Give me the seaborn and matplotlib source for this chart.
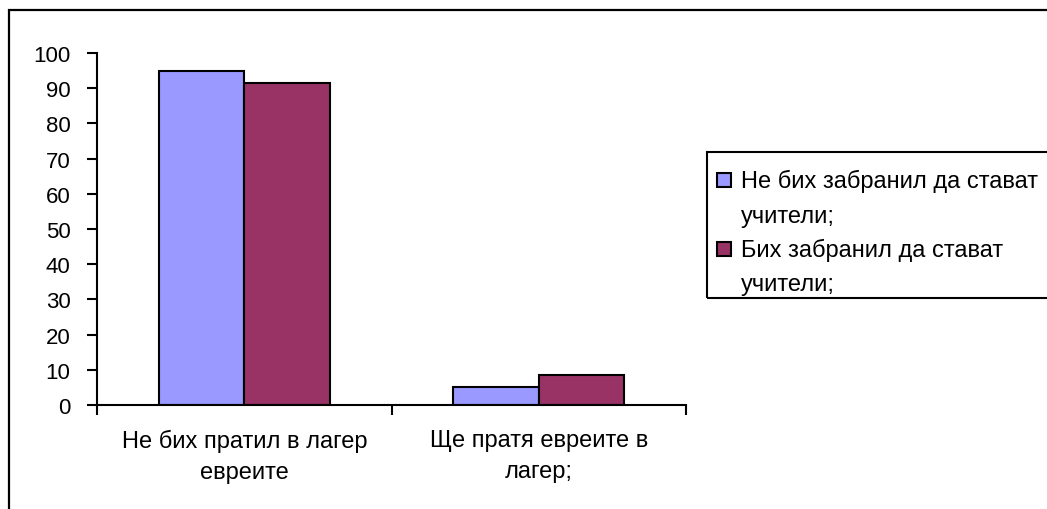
import matplotlib
matplotlib.use("Agg")
import matplotlib.pyplot as plt
from matplotlib.patches import Rectangle
from matplotlib.legend_handler import HandlerPatch
import pandas as pd
import seaborn as sns

# Survey answers (percent of respondents)
categories = ["Не бих пратил в лагер\nевреите", "Ще пратя евреите в\nлагер;"]
series_names = ["Не бих забранил да стават\nучители;", "Бих забранил да стават\nучители;"]
not_forbid = [95.0, 5.0]
forbid = [91.5, 8.5]
y_ticks = list(range(0, 101, 10))
colors = ["#9999FF", "#993366"]

df = pd.DataFrame({
    "category": categories * 2,
    "series": [series_names[0]] * 2 + [series_names[1]] * 2,
    "value": not_forbid + forbid,
})

sns.set_theme(style="white")
plt.rcParams["font.family"] = ["Liberation Sans", "DejaVu Sans"]
plt.rcParams["font.size"] = 17

W, H = 1047, 510
fig = plt.figure(figsize=(W / 100, H / 100), dpi=100)
ax = fig.add_axes([97 / W, 1 - 406 / H, (686 - 97) / W, (406 - 54) / H])

sns.barplot(data=df, x="category", y="value", hue="series", palette=colors,
            saturation=1, width=0.58, edgecolor="black", linewidth=1.5,
            ax=ax, legend=True)

ax.set_xlim(-0.5, 1.5)
ax.set_ylim(0, 100)
ax.set_yticks(y_ticks)
ax.set_xlabel("")
ax.set_ylabel("")

# category boundaries carry the tick marks, centres carry the labels
ax.set_xticks([-0.5, 0.5, 1.5])
ax.set_xticklabels([])
ax.set_xticks([0, 1], minor=True)
ax.set_xticklabels(categories, minor=True, linespacing=1.55)
ax.tick_params(axis="x", which="major", direction="out", length=7, width=1.5, color="black", bottom=True)
ax.tick_params(axis="x", which="minor", length=0, pad=17, labelsize=17, colors="black")
ax.tick_params(axis="y", direction="out", length=7, width=1.5, color="black", left=True,
               labelsize=16, pad=12, colors="black")

for side in ["top", "right"]:
    ax.spines[side].set_visible(False)
for side in ["left", "bottom"]:
    ax.spines[side].set_color("black")
    ax.spines[side].set_linewidth(1.5)


def top_square(legend, orig_handle, xdescent, ydescent, width, height, fontsize):
    # small square aligned with the first line of a two-line label
    s = 0.6 * fontsize
    return Rectangle((-xdescent - 0.12 * fontsize, -ydescent + height - s + 0.055 * fontsize), s, s)


handles, labels = ax.get_legend_handles_labels()
ax.get_legend().remove()
leg = fig.legend(handles, labels, loc="upper left",
                 bbox_to_anchor=(707 / W, 1 - 157 / H),
                 frameon=False,
                 handlelength=0.55, handleheight=2.9, handletextpad=0.35,
                 borderpad=0.55, labelspacing=0.45, fontsize=17,
                 borderaxespad=0,
                 handler_map={Rectangle: HandlerPatch(patch_func=top_square)})
for t in leg.get_texts():
    t.set_linespacing(1.75)
    t.set_color("black")

# legend box
fig.patches.append(Rectangle((707 / W, 1 - 299 / H), 0.5, (299 - 153) / H,
                             transform=fig.transFigure, fill=False,
                             edgecolor="black", linewidth=1.5))

# outer chart frame
fig.patches.append(Rectangle((9 / W, -0.2), 1.2, 1 - 11 / H + 0.2,
                             transform=fig.transFigure, fill=False,
                             edgecolor="black", linewidth=1.6))

fig.savefig("out.png", dpi=100, facecolor="white")
